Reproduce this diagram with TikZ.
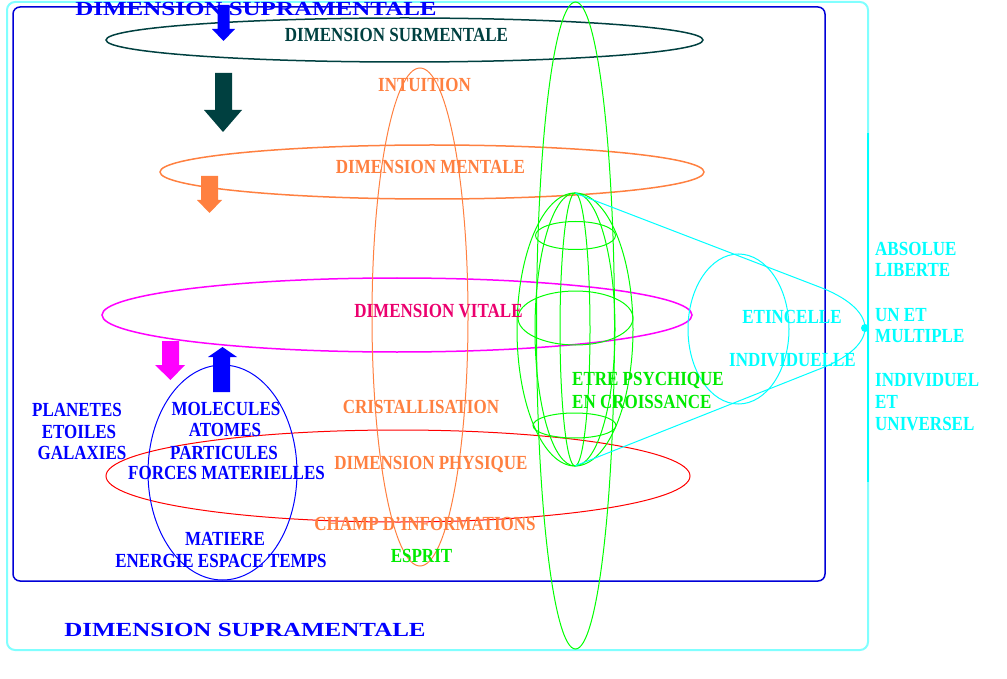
\documentclass[tikz,border=0pt]{standalone}
\usepackage{fontspec}
\setmainfont{Liberation Serif}[FakeStretch=0.85]
\newfontfamily\widefont{Liberation Serif}[FakeStretch=1.25]
\definecolor{cBlue}{RGB}{0,0,255}
\definecolor{rectBlue}{RGB}{0,0,215}
\definecolor{cTeal}{RGB}{0,64,64}
\definecolor{cOrange}{RGB}{255,128,64}
\definecolor{cMag}{RGB}{255,0,255}
\definecolor{cVital}{RGB}{235,0,110}
\definecolor{cRed}{RGB}{255,0,0}
\definecolor{cLime}{RGB}{0,255,0}
\definecolor{cLimeTxt}{RGB}{0,235,0}
\definecolor{cCyan}{RGB}{0,255,255}
\definecolor{cLCyan}{RGB}{128,255,255}
\tikzset{
  lbl/.style={font=\fontsize{20}{22}\selectfont\bfseries, inner sep=0pt, anchor=center},
  lblw/.style={lbl, anchor=west},
  ttl/.style={font=\fontsize{20}{22}\selectfont\bfseries\widefont, inner sep=0pt, text=cBlue},
  thin/.style={line width=1pt},
  mid/.style={line width=1.5pt},
  blockarrow/.style={draw=none}
}
\begin{document}
\begin{tikzpicture}[x=1pt,y=-1pt]
\useasboundingbox (0,0) rectangle (1007,679);
% frames
\draw[cLCyan, line width=2pt, rounded corners=8pt] (7,2) rectangle (868,650);
\draw[cCyan, line width=1.5pt] (868,133) -- (868,482);
\draw[rectBlue, mid, rounded corners=7pt] (13,7) rectangle (825,581);
% horizontal ellipses
\draw[cTeal, mid] (404.5,40) ellipse [x radius=298.5, y radius=22];
\draw[cOrange, mid] (432,172) ellipse [x radius=272, y radius=27];
\draw[cMag, mid] (397,315) ellipse [x radius=295, y radius=37];
\draw[cRed, thin] (398,476) ellipse [x radius=292, y radius=46];
\draw[cBlue, thin] (222.5,472.5) ellipse [x radius=74.5, y radius=107.5];
\draw[cOrange, thin] (420,317) ellipse [x radius=48, y radius=249];
% green big ellipse and psychic being
\draw[cLime, thin] (575.5,325.5) ellipse [x radius=39, y radius=323.5];
\draw[cLime, thin] (575,329.5) ellipse [x radius=58, y radius=136.5];
\draw[cLime, thin] (575,329.5) ellipse [x radius=40, y radius=136.5];
\draw[cLime, thin] (575,329.5) ellipse [x radius=15, y radius=136.5];
\draw[cLime, thin] (575.5,235.5) ellipse [x radius=40, y radius=14];
\draw[cLime, thin] (575.5,318) ellipse [x radius=57.5, y radius=27];
\draw[cLime, thin] (574.5,425.5) ellipse [x radius=41.5, y radius=12.5];
% cyan cone
\coordinate (ptop) at (575,193);
\coordinate (pbot) at (575,466);
\coordinate (tip) at (865,328);
\draw[cCyan, thin] (ptop) -- (822,288) .. controls (852,300) and (865,315) .. (tip)
  .. controls (865,341) and (852,356) .. (822,368) -- (pbot);
\draw[cCyan, thin] (738.5,329) ellipse [x radius=50.5, y radius=75];
\fill[cCyan] (tip) circle [radius=4];
% block arrows
\fill[cBlue] (217.5,5) -- (229.5,5) -- (229.5,29) -- (235,29) -- (223.5,41) -- (212,29) -- (217.5,29) -- cycle;
\fill[cTeal] (215,73) -- (232,73) -- (232,110) -- (242,110) -- (223,132) -- (204,110) -- (215,110) -- cycle;
\fill[cOrange] (201,176) -- (218,176) -- (218,200) -- (222,200) -- (209.5,213) -- (197,200) -- (201,200) -- cycle;
\fill[cMag] (162,341) -- (179,341) -- (179,365) -- (185,365) -- (170.5,380) -- (155,365) -- (162,365) -- cycle;
\fill[cBlue] (213,392) -- (230,392) -- (230,357) -- (237,357) -- (222.5,347) -- (208,357) -- (213,357) -- cycle;
% titles
\node[ttl] (t1) at (256,8.5) {DIMENSION SUPRAMENTALE};
\node[ttl] (t2) at (245,630) {DIMENSION SUPRAMENTALE};
% dimension labels
\node[lbl, text=cTeal] (surm) at (396.5,34.5) {DIMENSION SURMENTALE};
\node[lbl, text=cOrange] (intu) at (424.5,85) {INTUITION};
\node[lbl, text=cOrange] (ment) at (430.5,166.5) {DIMENSION MENTALE};
\node[lbl, text=cVital] (vit) at (438.5,311) {DIMENSION VITALE};
\node[lbl, text=cOrange] (crist) at (421,407) {CRISTALLISATION};
\node[lbl, text=cOrange] (phys) at (431,464) {DIMENSION PHYSIQUE};
\node[lbl, text=cOrange] (champ) at (425,524) {CHAMP D'INFORMATIONS};
\node[lbl, text=cLimeTxt] (esprit) at (421.5,555.5) {ESPRIT};
% blue labels
\node[lbl, text=cBlue] (pl) at (77,409.5) {PLANETES};
\node[lbl, text=cBlue] (et) at (79,431.5) {ETOILES};
\node[lbl, text=cBlue] (ga) at (82,453) {GALAXIES};
\node[lbl, text=cBlue] (mo) at (226,408.5) {MOLECULES};
\node[lbl, text=cBlue] (at) at (225,430) {ATOMES};
\node[lbl, text=cBlue] (pa) at (224,452.5) {PARTICULES};
\node[lbl, text=cBlue] (fo) at (226.5,473) {FORCES MATERIELLES};
\node[lbl, text=cBlue] (ma) at (225,539) {MATIERE};
\node[lbl, text=cBlue] (en) at (221,561) {ENERGIE ESPACE TEMPS};
% green / cyan labels
\node[lblw, text=cLimeTxt] (ep1) at (572,380) {ETRE PSYCHIQUE};
\node[lblw, text=cLimeTxt] (ep2) at (572,402) {EN CROISSANCE};
\node[lbl, text=cCyan] (etin) at (792,316.5) {ETINCELLE};
\node[lbl, text=cCyan] (indiv) at (792.5,360) {INDIVIDUELLE};
\node[lblw, text=cCyan] (r1) at (875,249) {ABSOLUE};
\node[lblw, text=cCyan] (r2) at (875,270) {LIBERTE};
\node[lblw, text=cCyan] (r3) at (875,315) {UN ET};
\node[lblw, text=cCyan] (r4) at (875,336) {MULTIPLE};
\node[lblw, text=cCyan] (r5) at (875,380.5) {INDIVIDUEL};
\node[lblw, text=cCyan] (r6) at (875,402) {ET};
\node[lblw, text=cCyan] (r7) at (875,424.5) {UNIVERSEL};
\end{tikzpicture}
\end{document}
